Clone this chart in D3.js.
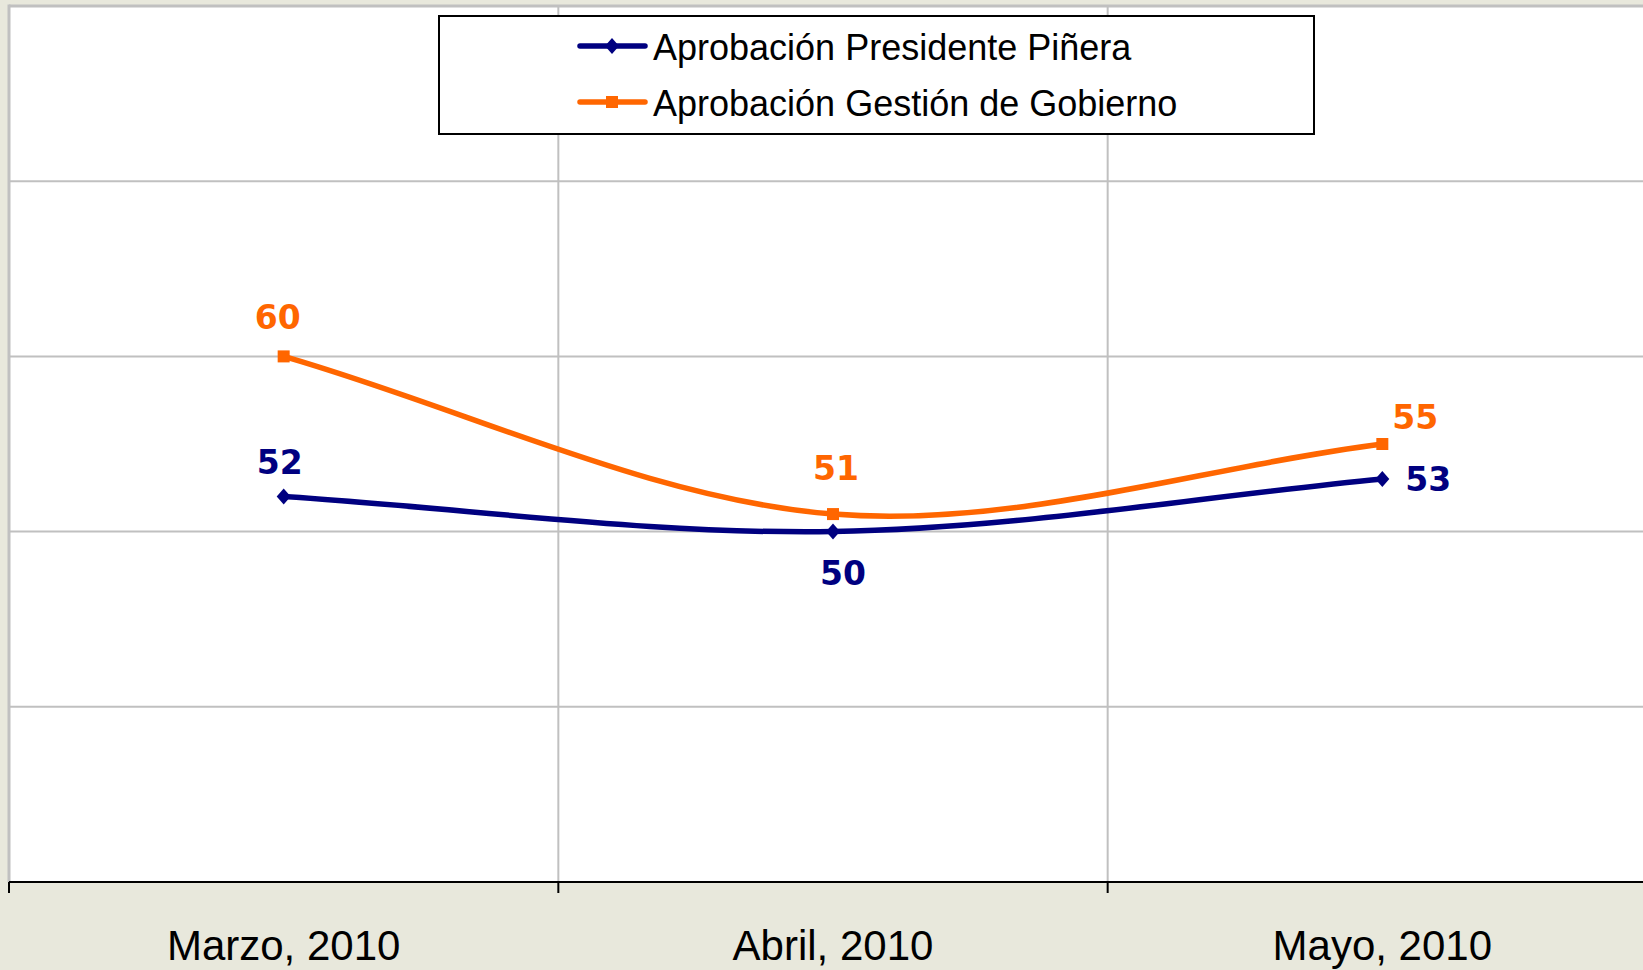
<!DOCTYPE html>
<html>
<head>
<meta charset="utf-8">
<script src="https://cdn.jsdelivr.net/npm/d3@7"></script>
<style>
  html, body { margin: 0; padding: 0; background: #e8e8dc; }
  svg { display: block; }
</style>
</head>
<body>
<svg id="chart" width="1643" height="970"></svg>
<script>
// ---- data ----
const categories = ["Marzo, 2010", "Abril, 2010", "Mayo, 2010"];
const seriesNames = ["Aprobación Presidente Piñera", "Aprobación Gestión de Gobierno"];
const presidenteValues = [52, 50, 53];
const gobiernoValues = [60, 51, 55];
const yTicks = [30, 40, 50, 60, 70, 80];

// ---- styling / placement (not data) ----
const colors = ["#000080", "#ff6600"];
const markerTypes = ["diamond", "square"];
// label offsets relative to point: [dx, dy(baseline)]
const labelOffsets = [
  [[-4, -23], [10, 53], [46, 12]],
  [[-6, -27], [3, -34], [33, -15]]
];

const svg = d3.select("#chart");
const plot = { left: 9, right: 1657, top: 6, bottom: 882 };

const x = d3.scalePoint().domain(categories).range([plot.left, plot.right]).padding(0.5);
const y = d3.scaleLinear().domain([30, 80]).range([plot.bottom, plot.top]);
const step = x.step();

// plot background
svg.append("rect")
  .attr("x", plot.left).attr("y", plot.top)
  .attr("width", plot.right - plot.left).attr("height", plot.bottom - plot.top)
  .attr("fill", "#ffffff");

// horizontal gridlines
svg.append("g").selectAll("line").data(yTicks.filter(d => d > 30)).join("line")
  .attr("x1", plot.left).attr("x2", plot.right)
  .attr("y1", d => y(d)).attr("y2", d => y(d))
  .attr("stroke", "#c0c0c0").attr("stroke-width", d => d === 80 ? 3 : 2);

// vertical gridlines at category boundaries
const boundaries = d3.range(categories.length + 1).map(i => plot.left + i * step);
svg.append("g").selectAll("line").data(boundaries.slice(1, -1)).join("line")
  .attr("x1", d => d).attr("x2", d => d)
  .attr("y1", plot.top).attr("y2", plot.bottom)
  .attr("stroke", "#c0c0c0").attr("stroke-width", 2);

// left plot border
svg.append("line")
  .attr("x1", plot.left).attr("x2", plot.left)
  .attr("y1", plot.top - 1.5).attr("y2", plot.bottom)
  .attr("stroke", "#c0c0c0").attr("stroke-width", 3);

// x axis
const xAxisG = svg.append("g");
xAxisG.append("line")
  .attr("x1", plot.left).attr("x2", plot.right)
  .attr("y1", plot.bottom).attr("y2", plot.bottom)
  .attr("stroke", "#000").attr("stroke-width", 2);
xAxisG.selectAll("line.tick").data(boundaries).join("line")
  .attr("class", "tick")
  .attr("x1", d => d).attr("x2", d => d)
  .attr("y1", plot.bottom).attr("y2", plot.bottom + 11)
  .attr("stroke", "#000").attr("stroke-width", 2);
xAxisG.selectAll("text").data(categories).join("text")
  .attr("x", d => x(d)).attr("y", 960)
  .attr("text-anchor", "middle")
  .attr("font-family", "'Liberation Sans', Arial, sans-serif")
  .attr("font-size", 42)
  .attr("fill", "#000")
  .text(d => d);

// Excel-like smoothing curve
function ExcelSmooth(context) { this._context = context; }
ExcelSmooth.prototype = {
  areaStart() { this._line = 0; },
  areaEnd() { this._line = NaN; },
  lineStart() { this._pts = []; },
  point(px, py) { this._pts.push([+px, +py]); },
  lineEnd() {
    const p = this._pts, c = this._context, n = p.length;
    if (!n) return;
    c.moveTo(p[0][0], p[0][1]);
    if (n === 2) { c.lineTo(p[1][0], p[1][1]); return; }
    for (let i = 0; i < n - 1; i++) {
      const p0 = p[i], p1 = p[i + 1];
      let c1, c2;
      if (i === 0) c1 = [p0[0] + (p1[0] - p0[0]) / 3, p0[1] + (p1[1] - p0[1]) / 3];
      else c1 = [p0[0] + (p1[0] - p[i - 1][0]) / 6, p0[1] + (p1[1] - p[i - 1][1]) / 6];
      if (i === n - 2) c2 = [p1[0] - (p1[0] - p0[0]) / 3, p1[1] - (p1[1] - p0[1]) / 3];
      else c2 = [p1[0] - (p[i + 2][0] - p0[0]) / 6, p1[1] - (p[i + 2][1] - p0[1]) / 6];
      c.bezierCurveTo(c1[0], c1[1], c2[0], c2[1], p1[0], p1[1]);
    }
  }
};
const excelCurve = ctx => new ExcelSmooth(ctx);

const line = d3.line()
  .x((d, i) => x(categories[i]))
  .y(d => y(d))
  .curve(excelCurve);

const allSeries = [presidenteValues, gobiernoValues];

function drawMarker(g, type, cx, cy, color) {
  if (type === "square") {
    g.append("rect").attr("x", cx - 6).attr("y", cy - 6)
      .attr("width", 12).attr("height", 12).attr("fill", color);
  } else {
    g.append("path")
      .attr("d", `M${cx},${cy - 8}L${cx + 7},${cy}L${cx},${cy + 8}L${cx - 7},${cy}Z`)
      .attr("fill", color);
  }
}

allSeries.forEach((vals, s) => {
  const g = svg.append("g");
  g.append("path").datum(vals)
    .attr("d", line)
    .attr("fill", "none")
    .attr("stroke", colors[s])
    .attr("stroke-width", 5.5)
    .attr("stroke-linejoin", "round");
  vals.forEach((v, i) => drawMarker(g, markerTypes[s], x(categories[i]), y(v), colors[s]));
});

// data labels
allSeries.forEach((vals, s) => {
  svg.append("g").selectAll("text").data(vals).join("text")
    .attr("x", (d, i) => x(categories[i]) + labelOffsets[s][i][0])
    .attr("y", (d, i) => y(d) + labelOffsets[s][i][1])
    .attr("text-anchor", "middle")
    .attr("font-family", "'DejaVu Sans', Verdana, sans-serif")
    .attr("font-weight", "bold")
    .attr("font-size", 33)
    .attr("fill", colors[s])
    .text(d => d);
});

// legend
const legend = svg.append("g");
legend.append("rect")
  .attr("x", 439).attr("y", 16).attr("width", 875).attr("height", 118)
  .attr("fill", "#fff").attr("stroke", "#000").attr("stroke-width", 2);
const legendRows = [46, 102];
seriesNames.forEach((name, s) => {
  const ly = legendRows[s];
  legend.append("line")
    .attr("x1", 580).attr("x2", 645).attr("y1", ly).attr("y2", ly)
    .attr("stroke", colors[s]).attr("stroke-width", 5.5).attr("stroke-linecap", "round");
  drawMarker(legend, markerTypes[s], 612, ly, colors[s]);
  legend.append("text")
    .attr("x", 653).attr("y", ly + 14)
    .attr("font-family", "'Liberation Sans', Arial, sans-serif")
    .attr("font-size", 36)
    .attr("fill", "#000")
    .text(name);
});
</script>
</body>
</html>
